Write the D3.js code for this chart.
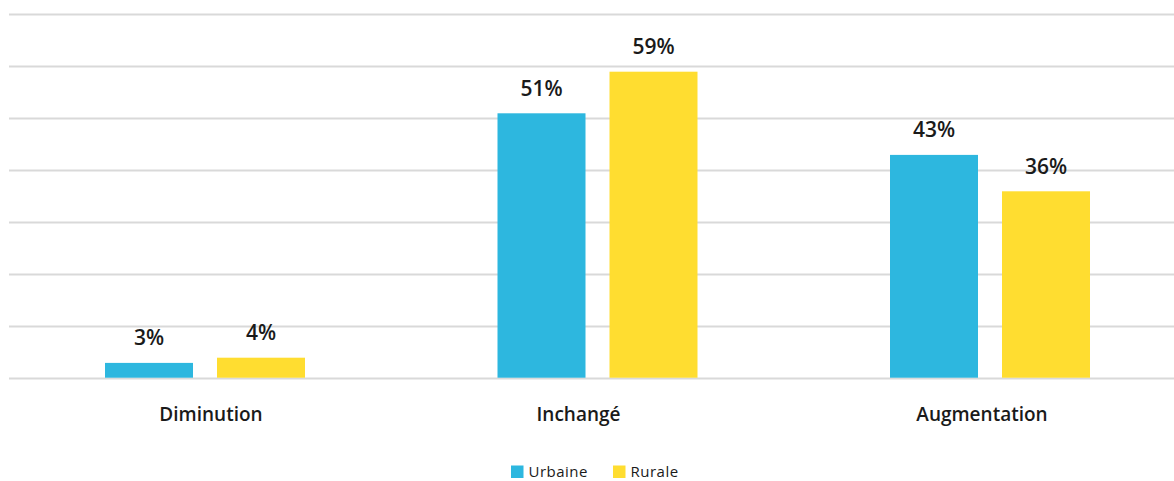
<!DOCTYPE html>
<html>
<head>
<meta charset="utf-8">
<script src="https://cdn.jsdelivr.net/npm/d3@7"></script>
<style>
    body { margin: 0; background: #fff; }
    svg text { font-family: "Open Sans", sans-serif; fill: #1a1a1a; }
</style>
</head>
<body>
<div id="chart"></div>
<script>
// données
var categories = ["Diminution", "Inchangé", "Augmentation"];
var series = ["Urbaine", "Rurale"];
var urbaine = [3, 51, 43];
var rurale = [4, 59, 36];
var yTicks = [0, 10, 20, 30, 40, 50, 60, 70];

const width = 1174;
const height = 481;
var colors = ["#2db7df", "#ffdd30"];

var svg = d3.select("#chart").append("svg")
    .attr("width", width).attr("height", height);

var x0 = d3.scaleBand()
    .domain(categories)
    .range([8.75, 1186.25])
    .paddingInner(0)
    .paddingOuter(0);

var x1 = d3.scaleBand()
    .domain(series)
    .range([x0.bandwidth() / 2 - 100, x0.bandwidth() / 2 + 100])
    .paddingInner(24 / 112);

var y = d3.scaleLinear()
    .domain([0, 70])
    .range([378.5, 14.5]);

// grille
svg.append("g")
    .attr("id", "grid")
    .selectAll("line")
    .data(yTicks)
    .enter()
    .append("line")
    .attr("x1", 9)
    .attr("x2", width)
    .attr("y1", d => y(d))
    .attr("y2", d => y(d))
    .attr("stroke", "#d9d9d9")
    .attr("stroke-width", 1.8);

var rows = categories.map(function (c, i) {
    return {cat: c, values: [urbaine[i], rurale[i]]};
});

var groups = svg.append("g")
    .attr("id", "bars")
    .selectAll(".group")
    .data(rows)
    .enter()
    .append("g")
    .attr("class", "group")
    .attr("transform", d => "translate(" + x0(d.cat) + ",0)");

groups.selectAll("rect")
    .data(d => d.values.map((v, j) => ({s: series[j], v: v, j: j})))
    .enter()
    .append("rect")
    .attr("x", d => x1(d.s))
    .attr("width", x1.bandwidth())
    .attr("y", d => y(d.v))
    .attr("height", d => y(0) - 0.8 - y(d.v))
    .attr("fill", d => colors[d.j]);

groups.selectAll(".value")
    .data(d => d.values.map((v, j) => ({s: series[j], v: v})))
    .enter()
    .append("text")
    .attr("class", "value")
    .attr("x", d => x1(d.s) + x1.bandwidth() / 2)
    .attr("y", d => y(d.v) - 17.5)
    .attr("text-anchor", "middle")
    .style("font-size", "21px")
    .style("font-weight", 600)
    .text(d => d.v + "%");

// étiquettes des catégories (décalage comme dans l'original)
var labelShift = [6, -19, -8];
svg.append("g")
    .attr("id", "cat_labels")
    .selectAll("text")
    .data(categories)
    .enter()
    .append("text")
    .attr("x", (d, i) => x0(d) + x0.bandwidth() / 2 + labelShift[i])
    .attr("y", 421)
    .attr("text-anchor", "middle")
    .style("font-size", "19px")
    .style("font-weight", 600)
    .text(d => d);

// légende
var legend = svg.append("g").attr("id", "legend");
var legendX = [511, 613];
series.forEach(function (s, i) {
    legend.append("rect")
        .attr("x", legendX[i])
        .attr("y", 465.5)
        .attr("width", 12.5)
        .attr("height", 12.5)
        .attr("fill", colors[i]);
    legend.append("text")
        .attr("x", legendX[i] + 17.5)
        .attr("y", 476.5)
        .style("font-size", "15px")
        .style("letter-spacing", "0.5px")
        .text(s);
});
</script>
</body>
</html>
